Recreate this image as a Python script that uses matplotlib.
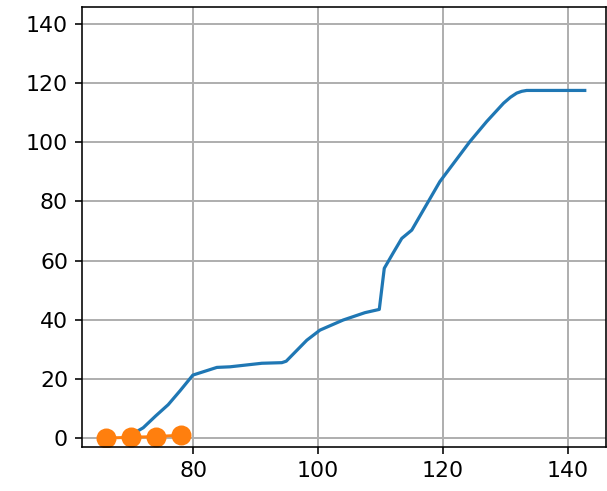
import matplotlib
matplotlib.use('Agg')
import matplotlib.pyplot as plt

# blue curve
curve_x = [70, 72, 74, 76, 77.9, 79.95, 83.8, 85.9, 91, 94.2, 94.9, 98.2, 100.3, 104, 107.5, 109.8,
           110.6, 112, 113.4, 115, 119.5, 124.3, 127, 129.7, 130.8, 131.8, 132.6, 133.4, 135, 142.7]
curve_y = [1, 3.5, 7.5, 11.3, 16, 21.3, 23.9, 24.1, 25.3, 25.5, 26, 33.1, 36.5, 39.9, 42.4, 43.5,
           57.4, 62.5, 67.5, 70.3, 86.7, 100.2, 107, 113.2, 115.2, 116.6, 117.2, 117.5, 117.5, 117.5]

# orange points
pts_x = [66, 70, 74, 78]
pts_y = [0, 0.3, 0.5, 1.0]

plt.rcParams['font.size'] = 11
fig = plt.figure(figsize=(607 / 144, 491 / 144), dpi=144)
ax = fig.add_axes([82 / 607, 1 - 447 / 491, (606 - 82) / 607, (447 - 7) / 491])

ax.plot(curve_x, curve_y, color='C0', linewidth=1.6)
ax.plot(pts_x, pts_y, 'o-', color='C1', markersize=9)

ax.set_xlim(62.2, 146.1)
ax.set_ylim(-3.0, 145.7)
ax.set_xticks([80, 100, 120, 140])
ax.set_yticks(range(0, 141, 20))
ax.grid(True, color='#b0b0b0', linewidth=1)
ax.set_axisbelow(True)

fig.savefig('out.png', dpi=144)
